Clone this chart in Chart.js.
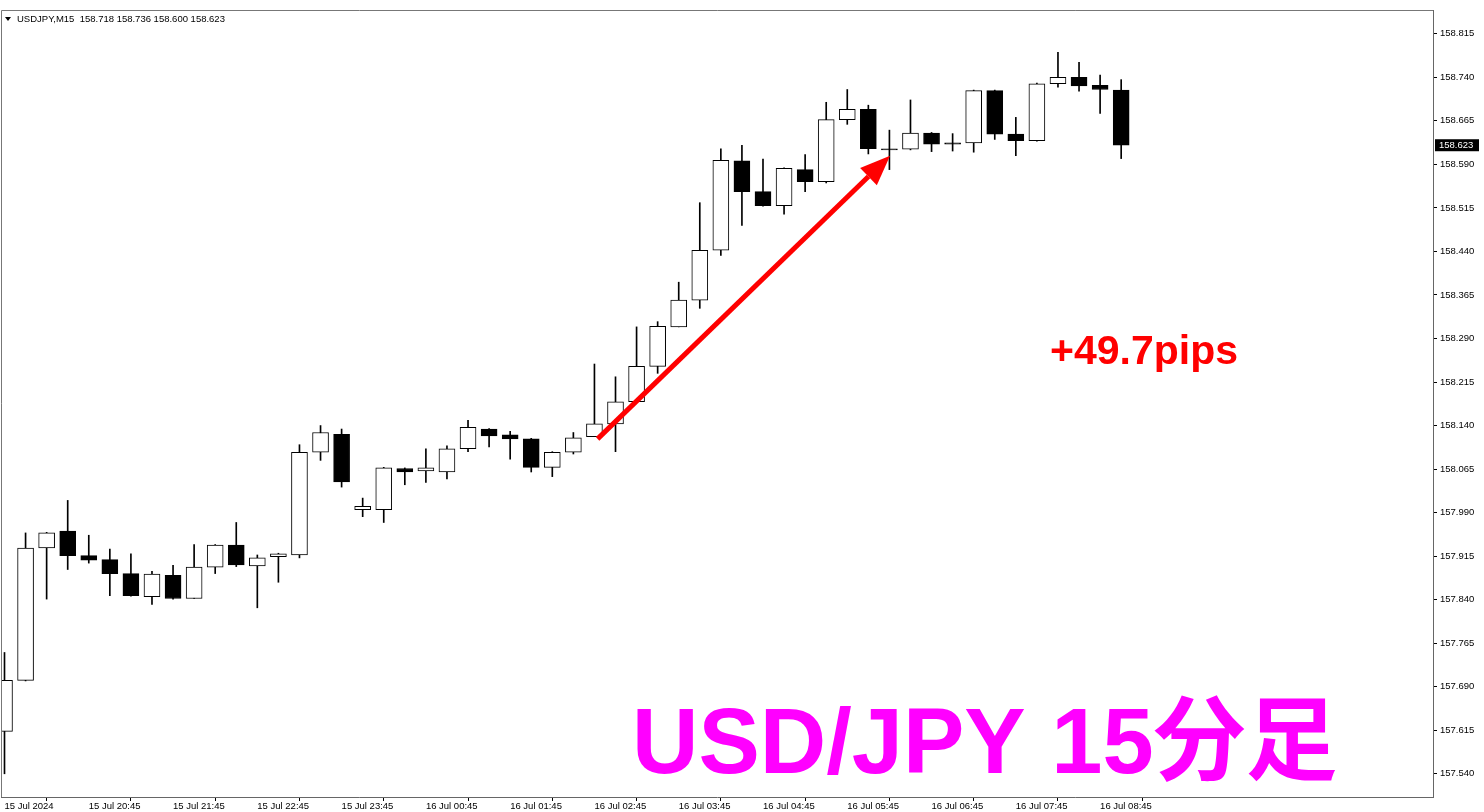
<!DOCTYPE html>
<html lang="ja">
<head>
<meta charset="UTF-8">
<title>USDJPY M15</title>
<script src="https://cdn.jsdelivr.net/npm/chart.js"></script>
<style>
    html, body { margin: 0; padding: 0; background: #fff; }
    .chart-container { position: relative; width: 1484px; height: 812px; }
</style>
</head>
<body>
<div class="chart-container">
    <canvas id="candleChart"></canvas>
</div>
<script>
// 15 minute candles, 15 Jul 19:45 .. 16 Jul 09:00
const openPrices = [
    157.613, 157.701, 157.929, 157.958, 157.916, 157.909, 157.885, 157.845, 157.882, 157.842,
    157.896, 157.934, 157.898, 157.914, 157.917, 158.094, 158.125, 157.995, 157.995, 158.066,
    158.062, 158.060, 158.100, 158.134, 158.124, 158.117, 158.068, 158.094, 158.121, 158.143,
    158.181, 158.242, 158.310, 158.356, 158.442, 158.596, 158.543, 158.519, 158.581, 158.560,
    158.667, 158.685, 158.617, 158.616, 158.644, 158.627, 158.627, 158.717, 158.642, 158.631,
    158.729, 158.740, 158.726, 158.718
];
const highPrices = [
    157.749, 157.955, 157.956, 158.011, 157.951, 157.927, 157.919, 157.889, 157.899, 157.935,
    157.935, 157.973, 157.917, 157.920, 158.107, 158.140, 158.134, 158.015, 158.068, 158.067,
    158.100, 158.105, 158.149, 158.135, 158.130, 158.118, 158.095, 158.128, 158.246, 158.224,
    158.310, 158.319, 158.387, 158.524, 158.617, 158.623, 158.599, 158.584, 158.607, 158.697,
    158.719, 158.692, 158.649, 158.701, 158.645, 158.643, 158.718, 158.718, 158.671, 158.730,
    158.783, 158.766, 158.744, 158.736
];
const lowPrices = [
    157.540, 157.700, 157.841, 157.892, 157.903, 157.847, 157.846, 157.832, 157.841, 157.842,
    157.885, 157.897, 157.826, 157.870, 157.912, 158.080, 158.034, 157.983, 157.973, 158.038,
    158.042, 158.048, 158.095, 158.103, 158.082, 158.060, 158.052, 158.091, 158.121, 158.095,
    158.181, 158.230, 158.310, 158.342, 158.433, 158.485, 158.518, 158.504, 158.543, 158.558,
    158.659, 158.608, 158.581, 158.615, 158.612, 158.613, 158.611, 158.633, 158.605, 158.630,
    158.723, 158.716, 158.678, 158.600
];
const closePrices = [
    157.701, 157.929, 157.955, 157.916, 157.908, 157.885, 157.847, 157.884, 157.842, 157.896,
    157.934, 157.900, 157.912, 157.919, 158.094, 158.128, 158.043, 158.001, 158.067, 158.060,
    158.067, 158.100, 158.137, 158.122, 158.117, 158.068, 158.094, 158.119, 158.143, 158.181,
    158.242, 158.311, 158.356, 158.442, 158.597, 158.543, 158.519, 158.583, 158.560, 158.667,
    158.685, 158.617, 158.615, 158.644, 158.625, 158.625, 158.717, 158.642, 158.631, 158.729,
    158.740, 158.725, 158.719, 158.623
];

// one label every 4 candles
const timeLabels = [
    '15 Jul 2024', '15 Jul 20:45', '15 Jul 21:45', '15 Jul 22:45', '15 Jul 23:45',
    '16 Jul 00:45', '16 Jul 01:45', '16 Jul 02:45', '16 Jul 03:45', '16 Jul 04:45',
    '16 Jul 05:45', '16 Jul 06:45', '16 Jul 07:45', '16 Jul 08:45'
];
const priceTicks = [
    158.815, 158.740, 158.665, 158.590, 158.515, 158.440, 158.365, 158.290, 158.215,
    158.140, 158.065, 157.990, 157.915, 157.840, 157.765, 157.690, 157.615, 157.540
];

const symbolInfo = 'USDJPY,M15  158.718 158.736 158.600 158.623';
const lastPrice = 158.623;
const gainText = '+49.7pips';
const titleText = 'USD/JPY 15分足';
// arrow from candle index / price to candle index / price
const arrowFrom = [28.15, 158.117];
const arrowTo = [42.03, 158.605];

const FONT = '"Liberation Sans", Arial, sans-serif';

const bodyData = openPrices.map((o, i) => ({ x: i, y: [o, closePrices[i]] }));
const wickData = lowPrices.map((l, i) => ({ x: i, y: [l, highPrices[i]] }));
const bodyFill = openPrices.map((o, i) => closePrices[i] >= o ? '#ffffff' : '#000000');

const overlay = {
    id: 'overlay',
    afterDatasetsDraw(chart) {
        const ctx = chart.ctx;
        const area = chart.chartArea;
        const xs = chart.scales.x, ys = chart.scales.y;
        ctx.save();

        // left and top frame
        ctx.strokeStyle = '#777';
        ctx.lineWidth = 1;
        ctx.beginPath();
        ctx.moveTo(area.left + 0.5, area.bottom);
        ctx.lineTo(area.left + 0.5, area.top + 0.5);
        ctx.lineTo(area.right, area.top + 0.5);
        ctx.stroke();

        // symbol header
        ctx.fillStyle = '#000';
        ctx.beginPath();
        ctx.moveTo(5, 17); ctx.lineTo(11, 17); ctx.lineTo(8, 21);
        ctx.closePath();
        ctx.fill();
        ctx.font = '9.5px ' + FONT;
        ctx.textBaseline = 'middle';
        ctx.textAlign = 'left';
        ctx.fillText(symbolInfo, 17, 19.5);

        // last price tag on the axis
        const py = ys.getPixelForValue(lastPrice);
        ctx.fillStyle = '#000';
        ctx.fillRect(area.right + 2, py - 6, 44, 12);
        ctx.fillStyle = '#fff';
        ctx.fillText(lastPrice.toFixed(3), area.right + 6, py + 0.5);

        // red arrow
        const x1 = xs.getPixelForValue(arrowFrom[0]), y1 = ys.getPixelForValue(arrowFrom[1]);
        const x2 = xs.getPixelForValue(arrowTo[0]), y2 = ys.getPixelForValue(arrowTo[1]);
        const ang = Math.atan2(y2 - y1, x2 - x1);
        const headLen = 30, headW = 12;
        const bx = x2 - headLen * Math.cos(ang), by = y2 - headLen * Math.sin(ang);
        ctx.strokeStyle = '#ff0000';
        ctx.fillStyle = '#ff0000';
        ctx.lineWidth = 5;
        ctx.beginPath();
        ctx.moveTo(x1, y1);
        ctx.lineTo(bx, by);
        ctx.stroke();
        ctx.beginPath();
        ctx.moveTo(x2, y2);
        ctx.lineTo(bx + headW * Math.sin(ang), by - headW * Math.cos(ang));
        ctx.lineTo(bx - headW * Math.sin(ang), by + headW * Math.cos(ang));
        ctx.closePath();
        ctx.fill();

        // annotations
        ctx.textBaseline = 'alphabetic';
        ctx.fillStyle = '#ff0000';
        ctx.font = 'bold 41px ' + FONT;
        ctx.fillText(gainText, 1050, 364);

        ctx.fillStyle = '#ff00ff';
        ctx.font = 'bold 92px "Liberation Sans", Arial, "Noto Sans CJK JP", sans-serif';
        ctx.fillText(titleText, 632, 773);

        ctx.restore();
    }
};

new Chart(document.getElementById('candleChart'), {
    type: 'bar',
    data: {
        datasets: [
            {
                label: 'body',
                data: bodyData,
                backgroundColor: bodyFill,
                borderColor: '#000',
                borderWidth: 1,
                borderSkipped: false,
                barThickness: 16,
                grouped: false
            },
            {
                label: 'wick',
                data: wickData,
                backgroundColor: '#000',
                borderWidth: 0,
                barThickness: 1,
                grouped: false
            }
        ]
    },
    options: {
        responsive: true,
        maintainAspectRatio: false,
        animation: false,
        events: [],
        layout: { padding: { top: 10, left: 1, right: 0, bottom: 0 } },
        plugins: { legend: { display: false }, tooltip: { enabled: false } },
        scales: {
            x: {
                type: 'linear',
                min: -0.166,
                max: 67.8,
                offset: false,
                afterBuildTicks: s => { s.ticks = timeLabels.map((_, k) => ({ value: k * 4 })); },
                afterFit: s => { s.height = 15; },
                ticks: {
                    callback: v => timeLabels[Math.round(v / 4)],
                    align: 'start',
                    autoSkip: false,
                    maxRotation: 0,
                    padding: 0,
                    color: '#000',
                    font: { family: FONT, size: 9.5 }
                },
                grid: { drawOnChartArea: false, drawTicks: true, tickLength: 4, color: '#000' },
                border: { color: '#666', width: 1 }
            },
            y: {
                position: 'right',
                min: 157.500,
                max: 158.856,
                afterBuildTicks: s => { s.ticks = priceTicks.map(v => ({ value: v })); },
                afterFit: s => { s.width = 51; },
                ticks: {
                    callback: v => v.toFixed(3),
                    padding: 3,
                    color: '#000',
                    font: { family: FONT, size: 9.5 }
                },
                grid: { drawOnChartArea: false, drawTicks: true, tickLength: 4, color: '#000' },
                border: { color: '#666', width: 1 }
            }
        }
    },
    plugins: [overlay]
});
</script>
</body>
</html>
